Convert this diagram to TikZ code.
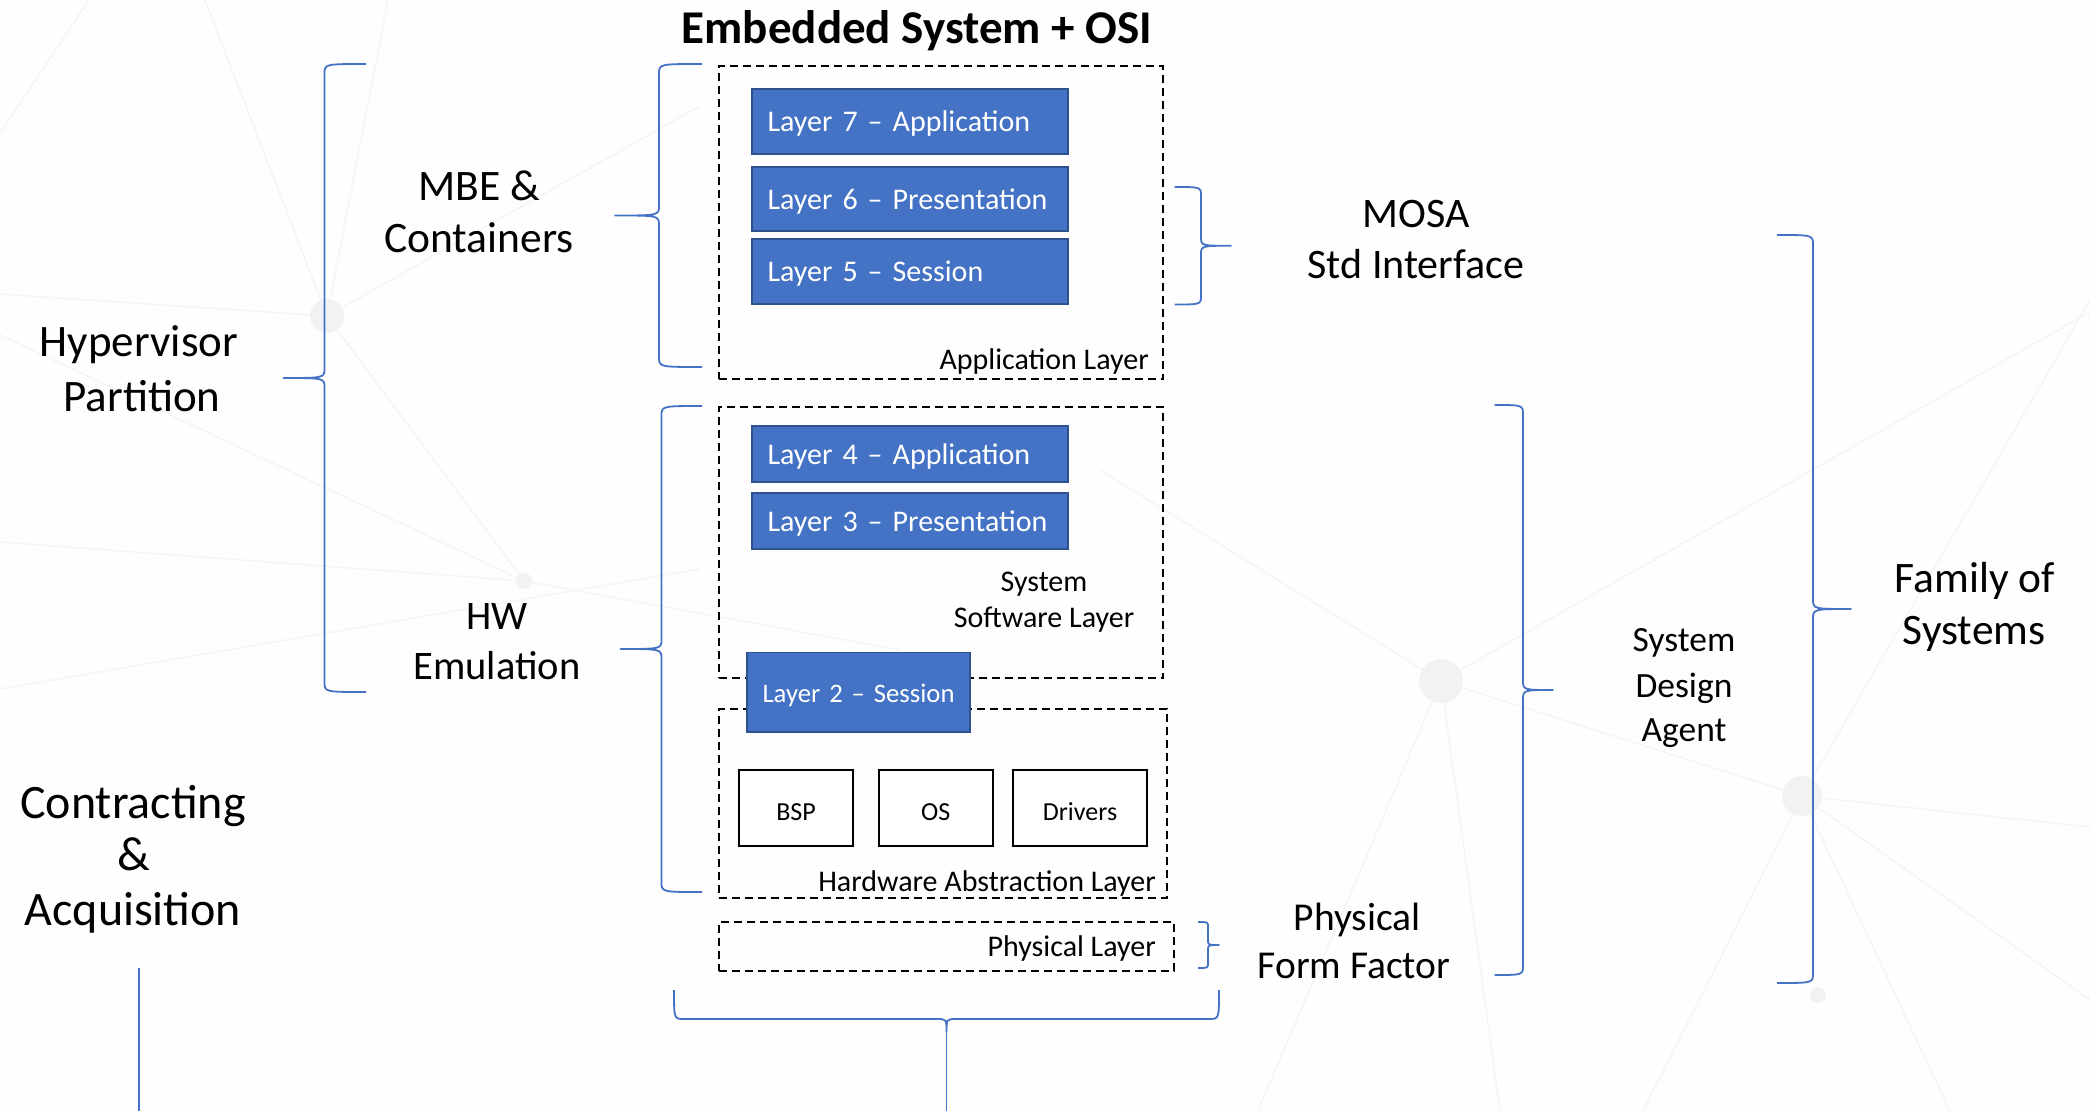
\documentclass[tikz,border=0pt]{standalone}
\usepackage{fontspec}
\setmainfont{Carlito}
\definecolor{obl}{HTML}{4472C4}
\definecolor{obd}{HTML}{2F528F}
\definecolor{bgl}{HTML}{F4F5F7}
\definecolor{bgd}{HTML}{F1F2F4}
\newcommand{\fsz}[1]{\fontsize{#1}{#1}\selectfont}
% vertical brace: E (end x), V (spine x), T (tip x), Y1, Y2, r
\newcommand{\vbrace}[6]{\draw[bracestyle] (#1,#4) .. controls (#2,#4) .. (#2,{#4+#6}) -- (#2,{(#4+#5)/2-#6}) .. controls (#2,{(#4+#5)/2}) .. (#3,{(#4+#5)/2}) .. controls (#2,{(#4+#5)/2}) .. (#2,{(#4+#5)/2+#6}) -- (#2,{#5-#6}) .. controls (#2,#5) .. (#1,#5);}
% horizontal brace: YE, YV, YT, X1, X2, r
\newcommand{\hbrace}[6]{\draw[bracestyle] (#4,#1) .. controls (#4,#2) .. ({#4+#6},#2) -- ({(#4+#5)/2-#6},#2) .. controls ({(#4+#5)/2},#2) .. ({(#4+#5)/2},#3) .. controls ({(#4+#5)/2},#2) .. ({(#4+#5)/2+#6},#2) -- ({#5-#6},#2) .. controls (#5,#2) .. (#5,#1);}
\tikzset{
  bracestyle/.style={draw=obl, line width=1.8pt, line join=round},
  dashbox/.style={draw=black, line width=2pt, dash pattern=on 8pt off 5pt, inner sep=0pt, anchor=north west},
  bluebox/.style={fill=obl, draw=obd, line width=1.5pt, inner xsep=15.5pt, inner ysep=0pt,
     text=white, align=left, text height=20pt, text depth=0pt},
  whitebox/.style={fill=white, draw=black, line width=2pt, inner sep=0pt, text height=24pt, text depth=0pt,
     font=\fsz{26}},
  lbl/.style={inner sep=0pt, anchor=base},
  bgline/.style={draw=bgl, line width=1.5pt},
  conn/.style={draw=obl, line width=1.8pt}
}
\begin{document}
\begin{tikzpicture}[x=1pt, y=-1pt]
\useasboundingbox (0,0) rectangle (2090,1111);
\fill[white!99!gray] (0,0) rectangle (2090,1111);
% faint background network
\draw[bgline] (0,133) -- (89,0);
\draw[bgline] (205,0) -- (327,316) -- (388,0);
\draw[bgline] (0,294) -- (327,316) -- (700,106);
\draw[bgline] (327,316) -- (524,581) -- (0,542);
\draw[bgline] (0,689) -- (700,569);
\draw[bgline] (0,335) -- (524,581) -- (900,650);
\draw[bgline] (1441,681) -- (1802,796) -- (2090,827);
\draw[bgline] (1441,681) -- (2090,312);
\draw[bgline] (1441,681) -- (1258,1111);
\draw[bgline] (1441,681) -- (1500,1111);
\draw[bgline] (1441,681) -- (1100,470);
\draw[bgline] (1802,796) -- (1643,1111);
\draw[bgline] (1802,796) -- (2090,300);
\draw[bgline] (1802,796) -- (2090,1000);
\draw[bgline] (1802,796) -- (1950,1111);
\fill[bgd] (327,316) circle (17);
\fill[bgd] (524,581) circle (8);
\fill[bgd] (1441,681) circle (22);
\fill[bgd] (1802,796) circle (20);
\fill[bgd] (1818,995) circle (8);

% title
\node[lbl, font=\bfseries\fsz{47}] (title) at (917,43) {Embedded System + OSI};

% dashed layer boxes
\node[dashbox, minimum width=444.5pt, minimum height=313pt] (appbox) at (717.5,65) {};
\node[dashbox, minimum width=444.5pt, minimum height=271pt] (swbox) at (717.5,406) {};
\node[dashbox, minimum width=448pt, minimum height=189pt] (halbox) at (717.5,708) {};
\node[dashbox, minimum width=455.5pt, minimum height=48.5pt] (phybox) at (717.5,921) {};

% dashed box labels
\node[lbl, anchor=base east, font=\fsz{30}] (applbl) at (1149,369) {Application Layer};
\node[lbl, font=\fsz{30}] (swlbl1) at (1044,591) {System};
\node[lbl, font=\fsz{30}] (swlbl2) at (1044,627) {Software Layer};
\node[lbl, anchor=base east, font=\fsz{30}] (hallbl) at (1156,891) {Hardware Abstraction Layer};
\node[lbl, anchor=base east, font=\fsz{30}] (phylbl) at (1156,956) {Physical Layer};

% blue layer boxes
\node[bluebox, text width=285pt, minimum height=65pt, font=\fsz{30}] (l7) at (910,121.5) {\mbox{Layer 7 -- Application}};
\node[bluebox, text width=285pt, minimum height=64pt, font=\fsz{30}] (l6) at (910,199) {\mbox{Layer 6 -- Presentation}};
\node[bluebox, text width=285pt, minimum height=65pt, font=\fsz{30}] (l5) at (910,271.5) {\mbox{Layer 5 -- Session}};
\node[bluebox, text width=285pt, minimum height=56pt, font=\fsz{30}] (l4) at (910,454) {\mbox{Layer 4 -- Application}};
\node[bluebox, text width=285pt, minimum height=56pt, font=\fsz{30}] (l3) at (910,521) {\mbox{Layer 3 -- Presentation}};
\node[bluebox, text width=192pt, minimum height=79.5pt, font=\fsz{26.7}] (l2) at (858.5,692) {\mbox{Layer 2 -- Session}};

% HAL component boxes
\node[whitebox, minimum width=114pt, minimum height=76.5pt] (bsp) at (796,808) {BSP};
\node[whitebox, minimum width=114.4pt, minimum height=76.5pt] (os) at (935.8,808) {OS};
\node[whitebox, minimum width=134pt, minimum height=76.5pt] (drv) at (1080,808) {Drivers};

% left labels
\node[lbl, font=\fsz{45}] (hyp1) at (139,356) {Hypervisor};
\node[lbl, font=\fsz{45}] (hyp2) at (142,411) {Partition};
\node[lbl, font=\fsz{43.5}] (mbe1) at (479,200) {MBE \&};
\node[lbl, font=\fsz{43.5}] (mbe2) at (479,252.5) {Containers};
\node[lbl, font=\fsz{40.5}] (hw1) at (497,629) {HW};
\node[lbl, font=\fsz{40.5}] (hw2) at (497,679.5) {Emulation};
\node[lbl, font=\fsz{48}] (ca1) at (133,818) {Contracting};
\node[lbl, font=\fsz{48}] (ca2) at (134,870) {\&};
\node[lbl, font=\fsz{48}] (ca3) at (133,925) {Acquisition};

% right labels
\node[lbl, font=\fsz{42}] (mosa1) at (1416,227) {MOSA};
\node[lbl, font=\fsz{42}] (mosa2) at (1416,278) {Std Interface};
\node[lbl, font=\fsz{39.5}] (pff1) at (1357,930.5) {Physical};
\node[lbl, font=\fsz{39.5}] (pff2) at (1354,978) {Form Factor};
\node[lbl, font=\fsz{35.5}] (sda1) at (1684,651) {System};
\node[lbl, font=\fsz{35.5}] (sda2) at (1684,697) {Design};
\node[lbl, font=\fsz{35.5}] (sda3) at (1684,741) {Agent};
\node[lbl, font=\fsz{43.5}] (fos1) at (1975,592) {Family of};
\node[lbl, font=\fsz{43.5}] (fos2) at (1974,644) {Systems};

% braces
\vbrace{366}{324.5}{283.5}{64}{692}{10}
\vbrace{702}{659}{615}{64}{367}{10}
\vbrace{702}{661.5}{620.5}{406}{892}{10}
\vbrace{1174.5}{1201}{1231}{187}{304.5}{9}
\vbrace{1494.6}{1523}{1553}{405}{975}{10}
\vbrace{1777}{1813}{1851}{235}{983}{10}
\vbrace{1198}{1208}{1219}{922}{968}{5}
\hbrace{990}{1019}{1032}{674}{1219}{10}

% lines running off the bottom
\coordinate (btip) at (946.5,1032);
\coordinate (bbot) at (946.5,1111);
\coordinate (ctop) at (139,968);
\coordinate (cbot) at (139,1111);
\draw[conn] (btip) -- (bbot);
\draw[conn] (ctop) -- (cbot);
\end{tikzpicture}
\end{document}
